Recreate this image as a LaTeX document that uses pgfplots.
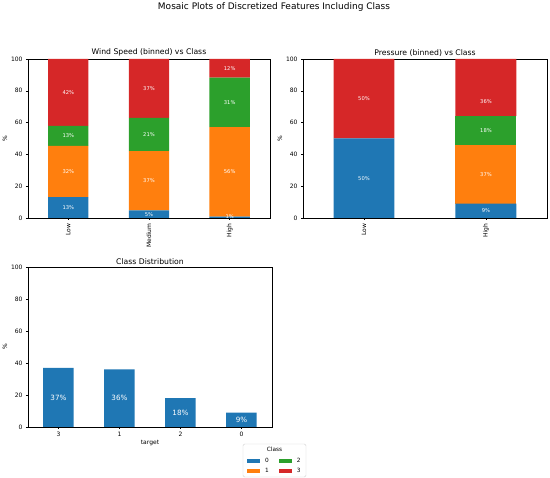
\documentclass[border=0pt]{standalone}
\usepackage{pgfplots}
\pgfplotsset{compat=1.18}
\usepackage{fontspec}
\setmainfont{DejaVu Sans}
\definecolor{tabblue}{HTML}{1F77B4}
\definecolor{taborange}{HTML}{FF7F0E}
\definecolor{tabgreen}{HTML}{2CA02C}
\definecolor{tabred}{HTML}{D62728}
\newcommand{\cp}[3]{\coordinate (#1) at (axis cs:#2,#3);}
\newcommand{\seg}[2]{\node[text=white,font=\fontsize{5.2}{6}\selectfont,inner sep=0pt,anchor=center] at (#1) {#2};}
\newcommand{\bigseg}[2]{\node[text=white,font=\fontsize{7.2}{8}\selectfont,inner sep=0pt,anchor=center] at (#1) {#2};}
\begin{document}
\begin{tikzpicture}
\useasboundingbox (0pt,0pt) rectangle (550pt,478pt);
\pgfplotsset{
  base/.style={
    scale only axis, anchor=south west,
    ymin=0, ymax=100, ytick={0,20,...,100},
    axis line style={line width=0.5pt},
    tick style={line width=0.5pt, black},
    major tick length=2pt, tick align=outside,
    xtick pos=bottom, ytick pos=left,
    ticklabel style={font=\fontsize{6}{7}\selectfont},
    /pgf/number format/assume math mode=true,
    ylabel={\%},
    every axis y label/.style={at={(axis description cs:0,0.5)}, xshift=-23pt, rotate=90, anchor=center, font=\fontsize{6}{7}\selectfont},
    every axis title/.style={at={(axis description cs:0.5,1)}, anchor=south, yshift=1.5pt, inner sep=1pt, font=\fontsize{7.7}{9}\selectfont},
    ybar stacked, bar width=0.5,
  },
  mosaic/.style={base,
    xticklabel style={rotate=90, anchor=east},
  },
}
% Wind Speed
\begin{axis}[mosaic, at={(28pt,260pt)}, width=242pt, height=159pt,
  xmin=-0.5, xmax=2.5, xtick={0,1,2}, xticklabels={Low,Medium,High},
  title={Wind Speed (binned) vs Class}]
\addplot[fill=tabblue, draw=none] coordinates {(0,13.2) (1,4.8) (2,0.8)};
\addplot[fill=taborange, draw=none] coordinates {(0,32.1) (1,37.2) (2,56.3)};
\addplot[fill=tabgreen, draw=none] coordinates {(0,12.7) (1,21.0) (2,31.2)};
\addplot[fill=tabred, draw=none] coordinates {(0,42.0) (1,37.0) (2,11.7)};
\cp{a1}{0}{6.6}\cp{a2}{0}{29.25}\cp{a3}{0}{51.65}\cp{a4}{0}{79}
\cp{b1}{1}{2.4}\cp{b2}{1}{23.4}\cp{b3}{1}{52.5}\cp{b4}{1}{81.5}
\cp{c1}{2}{0.6}\cp{c2}{2}{28.95}\cp{c3}{2}{72.7}\cp{c4}{2}{94.15}
\end{axis}
\seg{a1}{13\%}\seg{a2}{32\%}\seg{a3}{13\%}\seg{a4}{42\%}
\seg{b1}{5\%}\seg{b2}{37\%}\seg{b3}{21\%}\seg{b4}{37\%}
\seg{c1}{1\%}\seg{c2}{56\%}\seg{c3}{31\%}\seg{c4}{12\%}
% Pressure
\begin{axis}[mosaic, at={(303pt,260pt)}, width=244pt, height=159pt,
  xmin=-0.5, xmax=1.5, xtick={0,1}, xticklabels={Low,High},
  title={Pressure (binned) vs Class}]
\addplot[fill=tabblue, draw=none] coordinates {(0,50) (1,9)};
\addplot[fill=taborange, draw=none] coordinates {(0,0) (1,37)};
\addplot[fill=tabgreen, draw=none] coordinates {(0,0) (1,18)};
\addplot[fill=tabred, draw=none] coordinates {(0,50) (1,36)};
\cp{p1}{0}{25}\cp{p2}{0}{75}
\cp{q1}{1}{4.5}\cp{q2}{1}{27.5}\cp{q3}{1}{55}\cp{q4}{1}{73}
\end{axis}
\seg{p1}{50\%}\seg{p2}{50\%}
\seg{q1}{9\%}\seg{q2}{37\%}\seg{q3}{18\%}\seg{q4}{36\%}
% legend frame
\draw[rounded corners=1.5pt, draw=black!18, fill=white, line width=0.4pt] (243pt,1pt) rectangle (306pt,34pt);
\node[font=\fontsize{5.8}{7}\selectfont] at (274.5pt,28.7pt) {Class};
% Class distribution
\begin{axis}[base, at={(28pt,51pt)}, width=244pt, height=160pt,
  xmin=-0.5, xmax=3.5, xtick={0,1,2,3}, xticklabels={3,1,2,0},
  xlabel={target},
  every axis x label/.style={at={(axis description cs:0.5,0)}, yshift=-16pt, anchor=center, font=\fontsize{6}{7}\selectfont},
  title={Class Distribution},
  legend columns=2,
  legend image code/.code={\fill[#1, draw=none] (0pt,-2pt) rectangle (13pt,2pt);},
  legend style={draw=none, fill=none, at={(axis description cs:1.012,-0.244)}, anchor=center,
    font=\fontsize{5.8}{7}\selectfont, row sep=1pt, inner sep=0pt,
    /tikz/every odd column/.append style={column sep=3pt},
    /tikz/every even column/.append style={column sep=8pt}},
  ]
\addplot[fill=tabblue, draw=none, forget plot] coordinates {(0,37) (1,36) (2,18) (3,9)};
\addlegendimage{fill=tabblue, draw=none}
\addlegendentry{0}
\addlegendimage{fill=tabgreen, draw=none}
\addlegendentry{2}
\addlegendimage{fill=taborange, draw=none}
\addlegendentry{1}
\addlegendimage{fill=tabred, draw=none}
\addlegendentry{3}
\cp{d1}{0}{18.5}\cp{d2}{1}{18}\cp{d3}{2}{9}\cp{d4}{3}{4.5}
\end{axis}
\bigseg{d1}{37\%}\bigseg{d2}{36\%}\bigseg{d3}{18\%}\bigseg{d4}{9\%}
\node[font=\fontsize{9}{10}\selectfont] at (274pt,471pt) {Mosaic Plots of Discretized Features Including Class};
\end{tikzpicture}
\end{document}
